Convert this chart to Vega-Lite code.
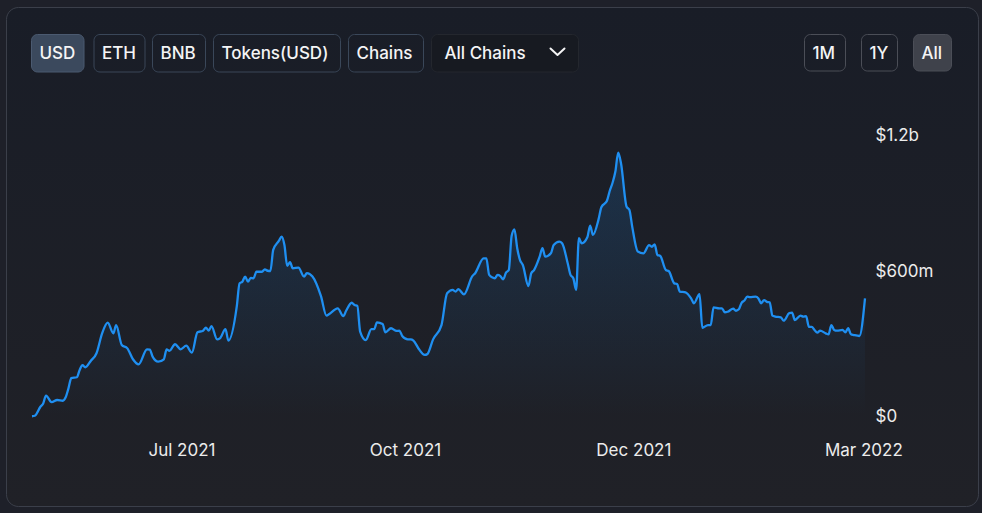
{
  "$schema": "https://vega.github.io/schema/vega-lite/v6.json",
  "width": 972,
  "height": 499,
  "autosize": {"type": "none"},
  "padding": {"left": 6, "top": 7, "right": 4, "bottom": 7},
  "background": "#1e2029",
  "config": {
    "font": "Inter",
    "view": {
      "fill": {"gradient": "linear", "x1": 0, "y1": 0, "x2": 0, "y2": 1, "stops": [{"offset": 0, "color": "#191d27"}, {"offset": 1, "color": "#202127"}]},
      "stroke": "#3b3f4a",
      "strokeWidth": 1,
      "cornerRadius": 12
    }
  },
  "datasets": {
    "tvl": [
      {"date": "2021-05-24", "tvl": 1}, {"date": "2021-05-25", "tvl": 3}, {"date": "2021-05-27", "tvl": 40}, {"date": "2021-05-28", "tvl": 54},
      {"date": "2021-05-29", "tvl": 86}, {"date": "2021-05-31", "tvl": 59}, {"date": "2021-06-02", "tvl": 68}, {"date": "2021-06-04", "tvl": 65},
      {"date": "2021-06-05", "tvl": 79}, {"date": "2021-06-06", "tvl": 116}, {"date": "2021-06-07", "tvl": 158}, {"date": "2021-06-09", "tvl": 162},
      {"date": "2021-06-10", "tvl": 192}, {"date": "2021-06-11", "tvl": 212}, {"date": "2021-06-12", "tvl": 203}, {"date": "2021-06-14", "tvl": 230},
      {"date": "2021-06-16", "tvl": 261}, {"date": "2021-06-18", "tvl": 343}, {"date": "2021-06-20", "tvl": 387}, {"date": "2021-06-22", "tvl": 343},
      {"date": "2021-06-23", "tvl": 377}, {"date": "2021-06-25", "tvl": 295}, {"date": "2021-06-27", "tvl": 281}, {"date": "2021-06-29", "tvl": 236},
      {"date": "2021-07-01", "tvl": 215}, {"date": "2021-07-04", "tvl": 277}, {"date": "2021-07-05", "tvl": 276}, {"date": "2021-07-06", "tvl": 247},
      {"date": "2021-07-08", "tvl": 226}, {"date": "2021-07-10", "tvl": 236}, {"date": "2021-07-11", "tvl": 277}, {"date": "2021-07-12", "tvl": 271},
      {"date": "2021-07-14", "tvl": 298}, {"date": "2021-07-16", "tvl": 277}, {"date": "2021-07-18", "tvl": 292}, {"date": "2021-07-20", "tvl": 263},
      {"date": "2021-07-22", "tvl": 347}, {"date": "2021-07-24", "tvl": 354}, {"date": "2021-07-25", "tvl": 366}, {"date": "2021-07-26", "tvl": 354},
      {"date": "2021-07-27", "tvl": 373}, {"date": "2021-07-29", "tvl": 318}, {"date": "2021-07-30", "tvl": 322}, {"date": "2021-08-01", "tvl": 360},
      {"date": "2021-08-02", "tvl": 313}, {"date": "2021-08-05", "tvl": 453}, {"date": "2021-08-06", "tvl": 549}, {"date": "2021-08-07", "tvl": 556},
      {"date": "2021-08-08", "tvl": 577}, {"date": "2021-08-09", "tvl": 556}, {"date": "2021-08-10", "tvl": 572}, {"date": "2021-08-11", "tvl": 570},
      {"date": "2021-08-12", "tvl": 597}, {"date": "2021-08-14", "tvl": 597}, {"date": "2021-08-15", "tvl": 607}, {"date": "2021-08-16", "tvl": 601},
      {"date": "2021-08-17", "tvl": 600}, {"date": "2021-08-18", "tvl": 687}, {"date": "2021-08-20", "tvl": 724}, {"date": "2021-08-21", "tvl": 742},
      {"date": "2021-08-22", "tvl": 707}, {"date": "2021-08-23", "tvl": 621}, {"date": "2021-08-24", "tvl": 636}, {"date": "2021-08-25", "tvl": 611},
      {"date": "2021-08-27", "tvl": 614}, {"date": "2021-08-29", "tvl": 577}, {"date": "2021-08-30", "tvl": 591}, {"date": "2021-09-01", "tvl": 577},
      {"date": "2021-09-04", "tvl": 497}, {"date": "2021-09-06", "tvl": 416}, {"date": "2021-09-07", "tvl": 423}, {"date": "2021-09-10", "tvl": 446},
      {"date": "2021-09-12", "tvl": 414}, {"date": "2021-09-13", "tvl": 436}, {"date": "2021-09-15", "tvl": 469}, {"date": "2021-09-16", "tvl": 460},
      {"date": "2021-09-17", "tvl": 456}, {"date": "2021-09-18", "tvl": 350}, {"date": "2021-09-20", "tvl": 315}, {"date": "2021-09-22", "tvl": 360},
      {"date": "2021-09-23", "tvl": 360}, {"date": "2021-09-24", "tvl": 388}, {"date": "2021-09-26", "tvl": 381}, {"date": "2021-09-27", "tvl": 347},
      {"date": "2021-09-29", "tvl": 364}, {"date": "2021-10-01", "tvl": 353}, {"date": "2021-10-02", "tvl": 354}, {"date": "2021-10-03", "tvl": 332},
      {"date": "2021-10-05", "tvl": 318}, {"date": "2021-10-06", "tvl": 318}, {"date": "2021-10-07", "tvl": 313}, {"date": "2021-10-09", "tvl": 277},
      {"date": "2021-10-11", "tvl": 254}, {"date": "2021-10-12", "tvl": 258}, {"date": "2021-10-14", "tvl": 318}, {"date": "2021-10-17", "tvl": 377},
      {"date": "2021-10-19", "tvl": 508}, {"date": "2021-10-21", "tvl": 522}, {"date": "2021-10-22", "tvl": 515}, {"date": "2021-10-23", "tvl": 525},
      {"date": "2021-10-25", "tvl": 504}, {"date": "2021-10-28", "tvl": 579}, {"date": "2021-10-29", "tvl": 591}, {"date": "2021-11-01", "tvl": 652},
      {"date": "2021-11-02", "tvl": 652}, {"date": "2021-11-03", "tvl": 584}, {"date": "2021-11-05", "tvl": 570}, {"date": "2021-11-06", "tvl": 584},
      {"date": "2021-11-07", "tvl": 579}, {"date": "2021-11-08", "tvl": 566}, {"date": "2021-11-09", "tvl": 593}, {"date": "2021-11-10", "tvl": 604},
      {"date": "2021-11-11", "tvl": 744}, {"date": "2021-11-12", "tvl": 772}, {"date": "2021-11-13", "tvl": 694}, {"date": "2021-11-14", "tvl": 645},
      {"date": "2021-11-15", "tvl": 625}, {"date": "2021-11-17", "tvl": 538}, {"date": "2021-11-18", "tvl": 591}, {"date": "2021-11-19", "tvl": 604},
      {"date": "2021-11-21", "tvl": 659}, {"date": "2021-11-22", "tvl": 694}, {"date": "2021-11-23", "tvl": 659}, {"date": "2021-11-25", "tvl": 673},
      {"date": "2021-11-26", "tvl": 707}, {"date": "2021-11-28", "tvl": 721}, {"date": "2021-11-29", "tvl": 714}, {"date": "2021-12-01", "tvl": 632},
      {"date": "2021-12-02", "tvl": 584}, {"date": "2021-12-03", "tvl": 570}, {"date": "2021-12-04", "tvl": 522}, {"date": "2021-12-05", "tvl": 735},
      {"date": "2021-12-06", "tvl": 714}, {"date": "2021-12-08", "tvl": 739}, {"date": "2021-12-09", "tvl": 787}, {"date": "2021-12-10", "tvl": 749},
      {"date": "2021-12-12", "tvl": 813}, {"date": "2021-12-13", "tvl": 863}, {"date": "2021-12-15", "tvl": 890}, {"date": "2021-12-16", "tvl": 931},
      {"date": "2021-12-17", "tvl": 964}, {"date": "2021-12-18", "tvl": 1010}, {"date": "2021-12-19", "tvl": 1088}, {"date": "2021-12-20", "tvl": 1044},
      {"date": "2021-12-22", "tvl": 865}, {"date": "2021-12-23", "tvl": 852}, {"date": "2021-12-24", "tvl": 783}, {"date": "2021-12-26", "tvl": 680},
      {"date": "2021-12-28", "tvl": 673}, {"date": "2021-12-30", "tvl": 707}, {"date": "2021-12-31", "tvl": 700}, {"date": "2022-01-01", "tvl": 710},
      {"date": "2022-01-02", "tvl": 666}, {"date": "2022-01-03", "tvl": 662}, {"date": "2022-01-05", "tvl": 604}, {"date": "2022-01-06", "tvl": 600},
      {"date": "2022-01-08", "tvl": 549}, {"date": "2022-01-09", "tvl": 546}, {"date": "2022-01-10", "tvl": 515}, {"date": "2022-01-12", "tvl": 512},
      {"date": "2022-01-14", "tvl": 487}, {"date": "2022-01-15", "tvl": 467}, {"date": "2022-01-17", "tvl": 505}, {"date": "2022-01-18", "tvl": 366},
      {"date": "2022-01-20", "tvl": 377}, {"date": "2022-01-21", "tvl": 377}, {"date": "2022-01-22", "tvl": 450}, {"date": "2022-01-24", "tvl": 446},
      {"date": "2022-01-25", "tvl": 446}, {"date": "2022-01-26", "tvl": 430}, {"date": "2022-01-27", "tvl": 432}, {"date": "2022-01-29", "tvl": 445},
      {"date": "2022-01-30", "tvl": 436}, {"date": "2022-01-31", "tvl": 442}, {"date": "2022-02-01", "tvl": 469}, {"date": "2022-02-02", "tvl": 478},
      {"date": "2022-02-03", "tvl": 494}, {"date": "2022-02-04", "tvl": 492}, {"date": "2022-02-06", "tvl": 494}, {"date": "2022-02-07", "tvl": 487},
      {"date": "2022-02-08", "tvl": 467}, {"date": "2022-02-09", "tvl": 480}, {"date": "2022-02-10", "tvl": 473}, {"date": "2022-02-11", "tvl": 471},
      {"date": "2022-02-12", "tvl": 416}, {"date": "2022-02-13", "tvl": 412}, {"date": "2022-02-15", "tvl": 409}, {"date": "2022-02-16", "tvl": 395},
      {"date": "2022-02-18", "tvl": 426}, {"date": "2022-02-19", "tvl": 428}, {"date": "2022-02-20", "tvl": 398}, {"date": "2022-02-22", "tvl": 416},
      {"date": "2022-02-23", "tvl": 412}, {"date": "2022-02-24", "tvl": 414}, {"date": "2022-02-25", "tvl": 370}, {"date": "2022-02-26", "tvl": 370},
      {"date": "2022-02-27", "tvl": 357}, {"date": "2022-02-28", "tvl": 346}, {"date": "2022-03-01", "tvl": 354}, {"date": "2022-03-03", "tvl": 343},
      {"date": "2022-03-04", "tvl": 339}, {"date": "2022-03-05", "tvl": 377}, {"date": "2022-03-06", "tvl": 357}, {"date": "2022-03-07", "tvl": 354},
      {"date": "2022-03-09", "tvl": 357}, {"date": "2022-03-10", "tvl": 347}, {"date": "2022-03-11", "tvl": 364}, {"date": "2022-03-12", "tvl": 339},
      {"date": "2022-03-13", "tvl": 336}, {"date": "2022-03-15", "tvl": 332}, {"date": "2022-03-17", "tvl": 487}
    ],
    "ui": [
      {"label": "USD", "state": "active", "x0": 31.5, "x1": 84, "y0": 34.5, "y1": 72},
      {"label": "ETH", "state": "idle", "x0": 94, "x1": 145, "y0": 34.5, "y1": 72},
      {"label": "BNB", "state": "idle", "x0": 152.5, "x1": 205.5, "y0": 34.5, "y1": 72},
      {"label": "Tokens(USD)", "state": "idle", "x0": 213.5, "x1": 340.5, "y0": 34.5, "y1": 72},
      {"label": "Chains", "state": "idle", "x0": 348.5, "x1": 423.5, "y0": 34.5, "y1": 72},
      {"label": "All Chains", "state": "select", "x0": 431.5, "x1": 578.5, "y0": 34.5, "y1": 72},
      {"label": "1M", "state": "range", "x0": 804.5, "x1": 845.5, "y0": 34.5, "y1": 71},
      {"label": "1Y", "state": "range", "x0": 861.5, "x1": 897.5, "y0": 34.5, "y1": 71},
      {"label": "All", "state": "range-active", "x0": 913.5, "x1": 951.5, "y0": 34.5, "y1": 71}
    ]
  },
  "layer": [
    {
      "data": {"name": "tvl"},
      "encoding": {
        "x": {
          "field": "date",
          "type": "temporal",
          "scale": {
            "type": "utc",
            "domain": [{"year": 2021, "month": 5, "date": 24, "utc": true}, {"year": 2022, "month": 3, "date": 17, "utc": true}],
            "range": [26, 859]
          },
          "axis": {
            "orient": "bottom",
            "offset": -89.5,
            "domain": false,
            "ticks": false,
            "grid": false,
            "title": null,
            "values": [
              {"year": 2021, "month": 7, "date": 16, "hours": 7, "utc": true},
              {"year": 2021, "month": 10, "date": 4, "utc": true},
              {"year": 2021, "month": 12, "date": 24, "hours": 10, "utc": true},
              {"year": 2022, "month": 3, "date": 16, "hours": 10, "utc": true}
            ],
            "labelExpr": "utcFormat(datum.value, '%b %Y')",
            "labelFlush": false,
            "labelOverlap": false,
            "labelPadding": 34,
            "labelBaseline": "middle",
            "labelFont": "Inter",
            "labelFontSize": 17,
            "labelColor": "#ececec"
          }
        },
        "y": {
          "field": "tvl",
          "type": "quantitative",
          "title": "TVL (million USD)",
          "scale": {"domain": [0, 1160], "range": [409.5, 128.2], "nice": false, "zero": true},
          "axis": {
            "orient": "right",
            "offset": -113,
            "domain": false,
            "ticks": false,
            "grid": false,
            "title": null,
            "values": [0, 600, 1160],
            "labelExpr": "datum.value == 0 ? '$0' : datum.value >= 1000 ? '$' + format(datum.value / 1000, '.1f') + 'b' : '$' + datum.value + 'm'",
            "labelAlign": "left",
            "labelPadding": 10,
            "labelFont": "Inter",
            "labelFontSize": 17,
            "labelColor": "#ececec",
            "labelOverlap": false
          }
        }
      },
      "layer": [
        {
          "mark": {
            "type": "area",
            "interpolate": "monotone",
            "fill": {"gradient": "linear", "x1": 0, "y1": 0, "x2": 0, "y2": 1, "stops": [{"offset": 0, "color": "rgba(31,143,241,0.18)"}, {"offset": 1, "color": "rgba(31,143,241,0)"}]}
          }
        },
        {
          "mark": {"type": "line", "interpolate": "monotone", "color": "#1f8ff1", "strokeWidth": 2.3}
        }
      ]
    },
    {
      "data": {"name": "ui"},
      "encoding": {
        "x": {"field": "x0", "type": "quantitative", "scale": {"domain": [6, 978], "nice": false, "zero": false}, "axis": null},
        "y": {"field": "y0", "type": "quantitative", "scale": {"domain": [7, 506], "reverse": true, "nice": false, "zero": false}, "axis": null}
      },
      "layer": [
        {
          "mark": {"type": "rect", "cornerRadius": 6, "strokeWidth": 1},
          "encoding": {
            "x2": {"field": "x1"},
            "y2": {"field": "y1"},
            "fill": {
              "field": "state",
              "type": "nominal",
              "scale": {"domain": ["active", "idle", "select", "range", "range-active"], "range": ["#3b495d", "transparent", "#171a21", "transparent", "#3f424b"]},
              "legend": null
            },
            "stroke": {
              "field": "state",
              "type": "nominal",
              "scale": {"domain": ["active", "idle", "select", "range", "range-active"], "range": ["#4b5a70", "#3a4759", "#24272e", "#4b4e57", "#4b4e57"]},
              "legend": null
            }
          }
        },
        {
          "transform": [{"filter": "datum.state != 'select'"}],
          "mark": {"type": "text", "align": "left", "baseline": "middle", "dx": 8, "dy": 19, "font": "Inter", "fontSize": 17, "fontWeight": 500, "color": "#f4f4f5"},
          "encoding": {"text": {"field": "label"}}
        },
        {
          "transform": [{"filter": "datum.state == 'select'"}],
          "mark": {"type": "text", "align": "left", "baseline": "middle", "dx": 13, "dy": 19, "font": "Inter", "fontSize": 17, "fontWeight": 500, "color": "#f4f4f5"},
          "encoding": {"text": {"field": "label"}}
        },
        {
          "transform": [{"filter": "datum.state == 'select'"}],
          "mark": {"type": "point", "shape": "M-4,2L-3,2.93L-2,2", "size": 196, "filled": false, "stroke": "#f4f4f5", "strokeWidth": 2, "strokeCap": "round", "strokeJoin": "round", "opacity": 1},
          "encoding": {"x": {"field": "x1", "type": "quantitative"}}
        }
      ]
    }
  ],
  "resolve": {"scale": {"x": "independent", "y": "independent"}}
}
